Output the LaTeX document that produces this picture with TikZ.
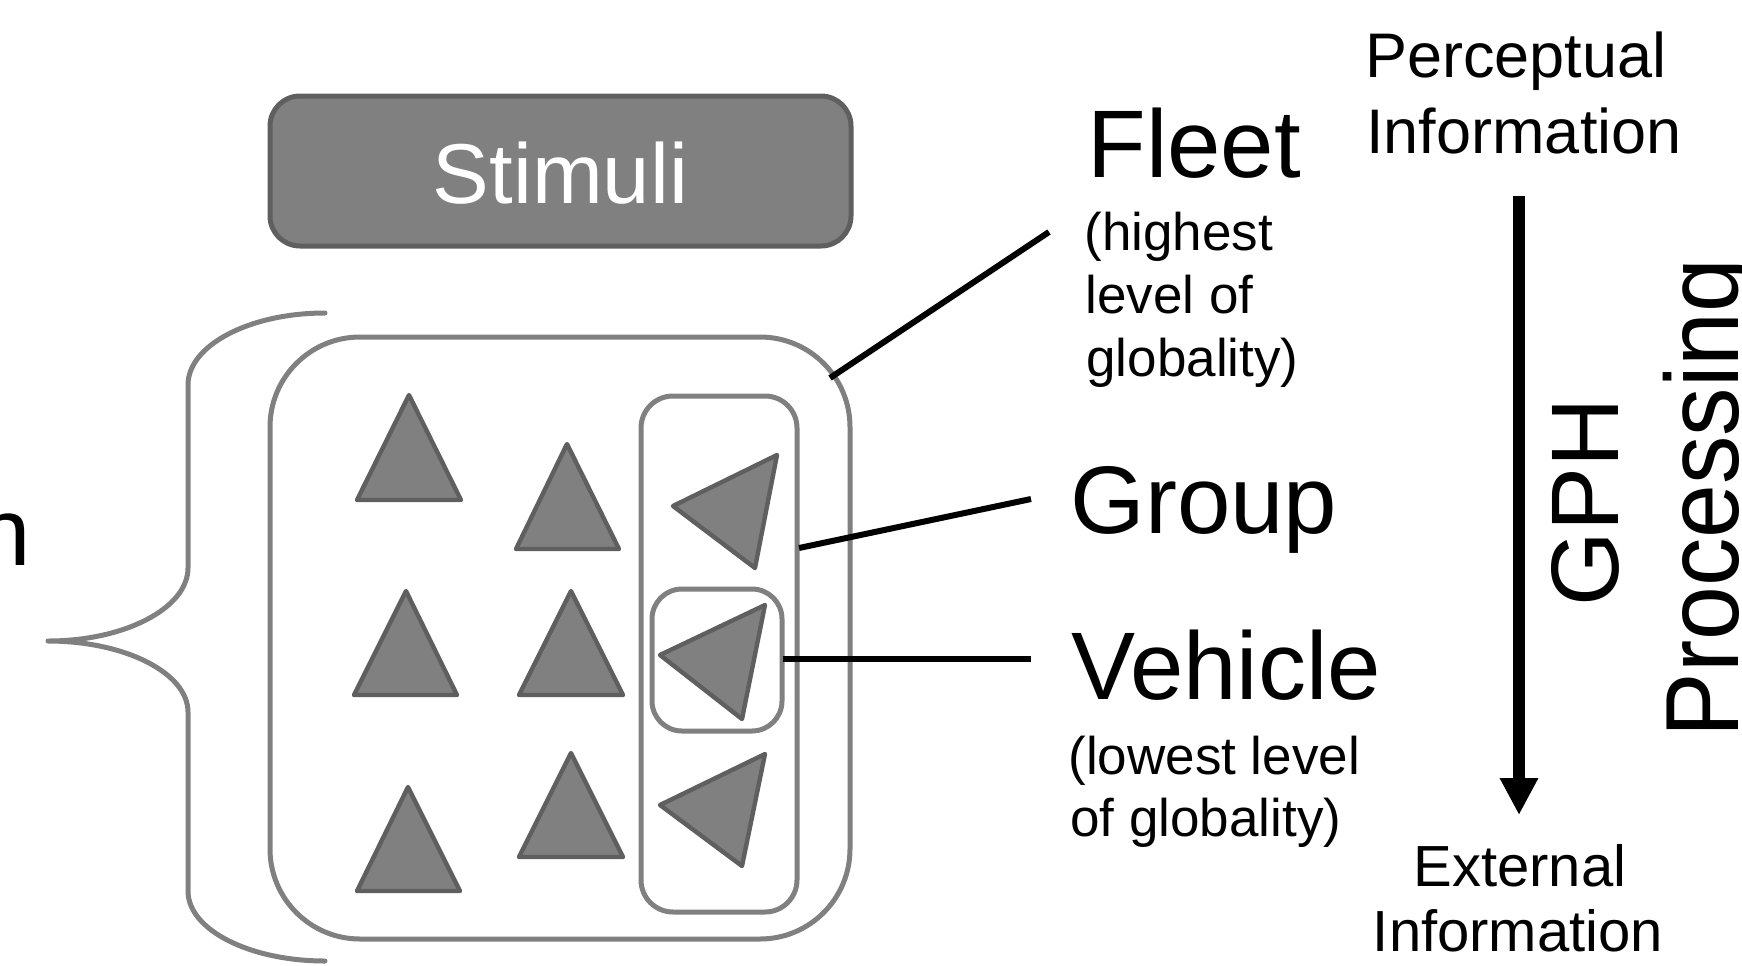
\documentclass[tikz,border=0pt]{standalone}
\usepackage{fontspec}
\setmainfont{Liberation Sans}
\usetikzlibrary{arrows.meta,fit}
\definecolor{boxgray}{HTML}{808080}
\definecolor{trifill}{HTML}{808080}
\definecolor{triedge}{HTML}{5F5F5F}
\begin{document}
\begin{tikzpicture}[x=0.5pt,y=-0.5pt,
  gbox/.style={draw=boxgray, line width=2.5pt, inner sep=0pt},
  tri/.style={fill=trifill, draw=triedge, line width=2.2pt, line join=round},
  conn/.style={draw=black, line width=3pt},
  bracestyle/.style={draw=boxgray, line width=2.5pt, line cap=round, line join=round},
  big/.style={inner sep=0pt, font=\fontsize{48}{56}\selectfont},
  small/.style={inner sep=0pt, font=\fontsize{26.5}{32}\selectfont, anchor=base west},
  toplab/.style={inner sep=0pt, font=\fontsize{31.5}{38}\selectfont, anchor=base},
  botlab/.style={inner sep=0pt, font=\fontsize{29}{35}\selectfont, anchor=base}]
\useasboundingbox (0,0) rectangle (1742,965);
\clip (0,0) rectangle (1742,965);

% cut-off word at left edge
\node[big, anchor=base east] (ncut) at (31,565) {n};

% brace
\draw[bracestyle] (325,313) .. controls (250,313) and (188,345) .. (188,385)
  -- (188,568) .. controls (188,608) and (125,641) .. (48,641)
  .. controls (125,641) and (188,673) .. (188,712)
  -- (188,891) .. controls (188,930) and (250,961) .. (325,961);

% stimuli box
\node[fit={(270,96) (851,246)}, fill=trifill, draw=triedge, line width=2.5pt,
      rounded corners=15pt, inner sep=0pt] (stimbox) {};
\node[inner sep=0pt, anchor=base, text=white, font=\fontsize{42.5}{50}\selectfont]
      (stimuli) at (560.5,203) {Stimuli};

% fleet / group / vehicle boxes
\node[gbox, rounded corners=45pt, fit={(270,337) (850,939)}] (fleetbox) {};
\node[gbox, rounded corners=16pt, fit={(641,396) (797,912)}] (groupbox) {};
\node[gbox, rounded corners=15pt, fit={(652,589) (782,731)}] (vehiclebox) {};

% upward triangles
\draw[tri] (409,395) -- (357,500) -- (461,500) -- cycle;
\draw[tri] (567,444) -- (516,549) -- (619,549) -- cycle;
\draw[tri] (406,591) -- (354,695) -- (457,695) -- cycle;
\draw[tri] (571,591) -- (519,695) -- (623,695) -- cycle;
\draw[tri] (408,787) -- (357,891) -- (460,891) -- cycle;
\draw[tri] (571,753) -- (519,857) -- (623,857) -- cycle;

% left-pointing triangles
\draw[tri] (673,506) -- (777,455) -- (755,568) -- cycle;
\draw[tri] (660,655) -- (765,605) -- (742,719) -- cycle;
\draw[tri] (660,805) -- (765,754) -- (742,866) -- cycle;

% labels
\node[big, anchor=base west] (fleet) at (1087,177) {Fleet};
\node[small] (fleetA) at (1084,250) {(highest};
\node[small] (fleetB) at (1085,313) {level of};
\node[small] (fleetC) at (1086,376) {globality)};
\node[big, anchor=base west] (group) at (1070,533) {Group};
\node[big, anchor=base west] (vehicle) at (1071,699) {Vehicle};
\node[small] (vehA) at (1068,774) {(lowest level};
\node[small] (vehB) at (1070,836) {of globality)};

% connectors
\coordinate (fleetS) at (830,378);
\coordinate (fleetE) at (1049,232);
\coordinate (groupS) at (799,548);
\coordinate (groupE) at (1031,499);
\coordinate (vehS) at (783,659);
\coordinate (vehE) at (1031,659);
\draw[conn] (fleetS) -- (fleetE);
\draw[conn] (groupS) -- (groupE);
\draw[conn] (vehS) -- (vehE);

% right side
\node[toplab] (perc1) at (1516,77) {Perceptual};
\node[toplab] (perc2) at (1524,153) {Information};
\node[botlab] (ext1) at (1520,886) {External};
\node[botlab] (ext2) at (1518,951) {Information};
\coordinate (arrtop) at (1519,196);
\coordinate (arrtip) at (1519,815);
\draw[line width=6pt, -{Triangle[length=18.5pt,width=18pt]}] (arrtop) -- (arrtip);
\node[rotate=90, anchor=base, inner sep=0pt, font=\fontsize{48}{56}\selectfont] (gph) at (1618,502) {GPH};
\node[rotate=90, anchor=base, inner sep=0pt, font=\fontsize{52}{60}\selectfont] (proc) at (1738,498) {\scalebox{0.93}[1]{Processing}};
\end{tikzpicture}
\end{document}
